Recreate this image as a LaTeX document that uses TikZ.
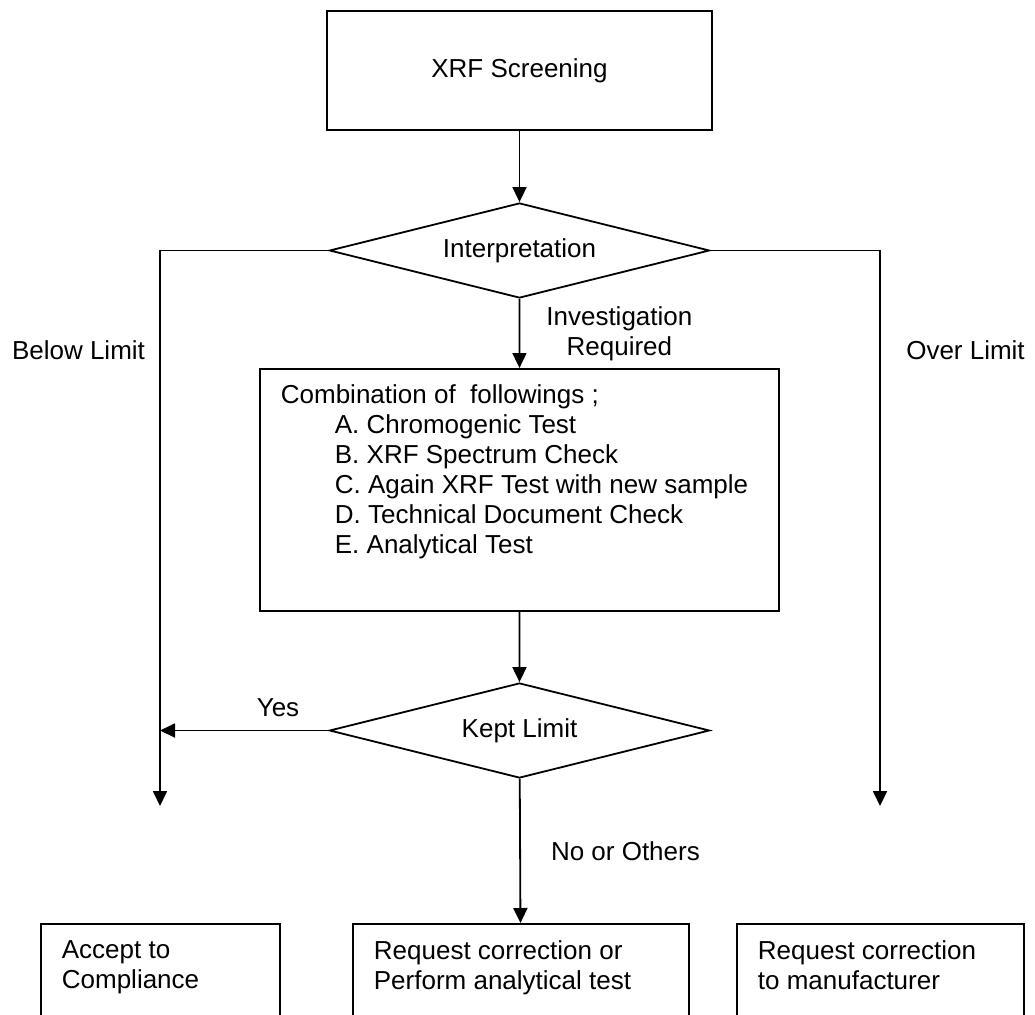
\documentclass[tikz,border=0pt]{standalone}
\usepackage{fontspec}
\setmainfont{Liberation Sans}
\usepackage{tikz}
\usetikzlibrary{arrows.meta, shapes.geometric, positioning}
\tikzset{procbox/.style={draw, rectangle, line width=1.8pt, inner sep=0pt}, decision/.style={draw, diamond, aspect=4, line width=1.8pt, minimum width=380pt, minimum height=95pt, inner sep=0pt}, conn/.style={->, line width=1.8pt}, lbl/.style={align=center, inner sep=0pt}}

\begin{document}
\begin{tikzpicture}[x=1pt, y=-1pt, >={Triangle[length=15pt,width=14pt]}, font=\fontsize{26}{30}\selectfont]
\useasboundingbox (0,0) rectangle (1035,1014);
\clip (0,0) rectangle (1035,1014);
\node[procbox, minimum width=385pt, minimum height=119pt] (xrf) at (519.5,70.5) {XRF Screening};
\node[decision] (interp) at (519.5,250.5) {Interpretation};
\node[procbox, anchor=north west, inner xsep=21pt, inner ysep=16pt] (combo) at (259,368) {\parbox[t][210pt][t]{477pt}{Combination of\ \ followings ;\\\hspace*{54pt}A. Chromogenic Test\\\hspace*{54pt}B. XRF Spectrum Check\\\hspace*{54pt}C. Again XRF Test with new sample\\\hspace*{54pt}D. Technical Document Check\\\hspace*{54pt}E. Analytical Test}};
\node[decision] (kept) at (519.5,730.5) {Kept Limit};
\node[procbox, anchor=north west, inner xsep=21pt, inner ysep=17pt] (accept) at (40,923) {\parbox[t][140pt][t]{197pt}{Accept to\\Compliance}};
\node[procbox, anchor=north west, inner xsep=21pt, inner ysep=17pt] (correct) at (352,923) {\parbox[t][140pt][t]{294pt}{Request correction or\\Perform analytical test}};
\node[procbox, anchor=north west, inner xsep=21pt, inner ysep=17pt] (manuf) at (736,923) {\parbox[t][140pt][t]{245pt}{Request correction\\to manufacturer}};
\node[lbl] (below) at (78.5,350) {Below Limit};
\node[lbl] (over) at (965.5,350) {Over Limit};
\coordinate (belowend) at (160,806);
\coordinate (overend) at (880,806);
\coordinate (yesend) at (160,730.5);
\draw[conn] (xrf) -- (interp);
\draw[conn] (interp) -- (combo) node[lbl, midway, right=26pt] {Investigation\\Required};
\draw[conn] (interp.west) -| (belowend);
\draw[conn] (interp.east) -| (overend);
\draw[conn] (combo) -- (kept);
\draw[conn] (kept.west) -- (yesend) node[lbl, pos=0.3, above=13pt] {Yes};
\draw[conn] (kept) -- (correct) node[lbl, midway, right=30pt] {No or Others};
\end{tikzpicture}
\end{document}
